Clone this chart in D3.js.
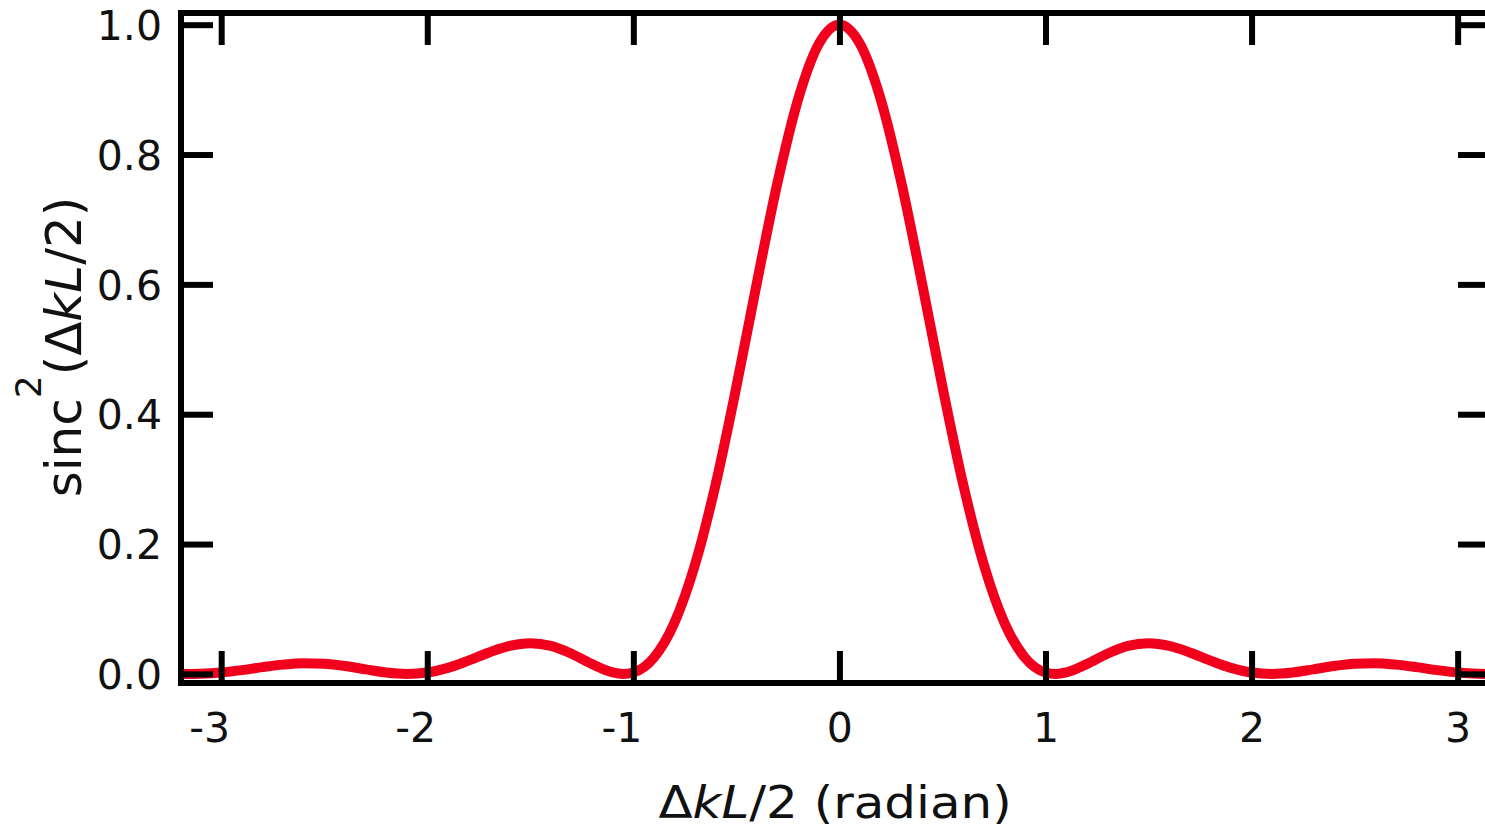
<!DOCTYPE html>
<html>
<head>
<meta charset="utf-8">
<script src="https://cdn.jsdelivr.net/npm/d3@7"></script>
<style>
  html, body { margin: 0; padding: 0; background: #fff; }
  svg { display: block; }
  text { font-family: "DejaVu Sans", sans-serif; fill: #111; }
</style>
</head>
<body>
<svg id="chart" width="1485" height="832"></svg>
<script>
// ---- data ----
const xValues = [
  -3.2,-3.14,-3.1,-3.0,-2.9,-2.8,-2.7,-2.6,-2.5,-2.4,-2.3,-2.2,-2.1,-2.0,
  -1.9,-1.8,-1.7,-1.6,-1.5,-1.4,-1.3,-1.2,-1.1,-1.05,-1.0,
  -0.9,-0.8,-0.7,-0.6,-0.5,-0.4,-0.3,-0.2,-0.1,0.0,
  0.1,0.2,0.3,0.4,0.5,0.6,0.7,0.8,0.9,1.0,1.05,
  1.1,1.2,1.3,1.4,1.5,1.6,1.7,1.8,1.9,2.0,
  2.1,2.2,2.3,2.4,2.5,2.6,2.7,2.8,2.9,3.0,3.1,3.14,3.2
];
const yValues = [
  0.0003,0.0000,0.0002,0.0021,0.0058,0.0104,0.0143,0.0164,0.0156,0.0122,0.0070,0.0022,0.0000,0.0022,
  0.0093,0.0205,0.0330,0.0431,0.0472,0.0431,0.0311,0.0151,0.0023,0.0000,0.0022,
  0.0251,0.0792,0.1690,0.2927,0.4422,0.6033,0.7575,0.8856,0.9704,1.0000,
  0.9704,0.8856,0.7575,0.6033,0.4422,0.2927,0.1690,0.0792,0.0251,0.0022,0.0000,
  0.0023,0.0151,0.0311,0.0431,0.0472,0.0431,0.0330,0.0205,0.0093,0.0022,
  0.0000,0.0022,0.0070,0.0122,0.0156,0.0164,0.0143,0.0104,0.0058,0.0021,0.0002,0.0000,0.0003
];
const xTicks = [-3,-2,-1,0,1,2,3];
const yTicks = [0.0,0.2,0.4,0.6,0.8,1.0];
const xDomain = [-3.195, 3.157];
const yDomain = [-0.014, 1.018];

// ---- layout ----
const W = 1485, H = 832;
const mLeft = 181, mRight = 1490, mTop = 13, mBottom = 683;
const tickLen = 29;
const axisW = 6;
const curveColor = "#f0001c";

const svg = d3.select("#chart");
const x = d3.scaleLinear().domain(xDomain).range([mLeft, mRight]);
const y = d3.scaleLinear().domain(yDomain).range([mBottom, mTop]);

// clip for data
svg.append("defs").append("clipPath").attr("id", "plotclip")
  .append("rect").attr("x", mLeft).attr("y", mTop - 20)
  .attr("width", mRight - mLeft).attr("height", mBottom - mTop + 20);

const data = xValues.map((v, i) => ({x: v, y: yValues[i]}));
const line = d3.line().x(d => x(d.x)).y(d => y(d.y)).curve(d3.curveMonotoneX);

svg.append("path")
  .datum(data)
  .attr("clip-path", "url(#plotclip)")
  .attr("d", line)
  .attr("fill", "none")
  .attr("stroke", curveColor)
  .attr("stroke-width", 10)
  .attr("stroke-linejoin", "miter");

// ---- axes ----
function styleAxis(g) {
  g.select(".domain").remove();
  g.selectAll(".tick line").attr("stroke", "#000").attr("stroke-width", axisW);
}

// bottom: ticks pointing up, labels below
const gB = svg.append("g").attr("transform", `translate(0,${mBottom})`)
  .call(d3.axisBottom(x).tickValues(xTicks).tickSizeInner(-tickLen - axisW/2).tickSizeOuter(0).tickPadding(0)
        .tickFormat(d => String(d)));
styleAxis(gB);
gB.selectAll(".tick text")
  .attr("y", 59).attr("dy", 0)
  .attr("dx", d => d < 0 ? -12 : 0)
  .style("font-size", "41px").attr("fill", "#111");

// top: ticks pointing down, no labels
const gT = svg.append("g").attr("transform", `translate(0,${mTop})`)
  .call(d3.axisTop(x).tickValues(xTicks).tickSizeInner(-tickLen - axisW/2).tickSizeOuter(0).tickFormat(""));
styleAxis(gT);

// left: ticks pointing right, labels left
const gL = svg.append("g").attr("transform", `translate(${mLeft},0)`)
  .call(d3.axisLeft(y).tickValues(yTicks).tickSizeInner(-tickLen - axisW/2).tickSizeOuter(0)
        .tickFormat(d3.format(".1f")));
styleAxis(gL);
gL.selectAll(".tick text")
  .attr("x", -19).attr("dy", "0.36em")
  .attr("text-anchor", "end")
  .style("font-size", "41px").attr("fill", "#111");

// right: ticks pointing left, no labels
const gR = svg.append("g").attr("transform", `translate(${mRight},0)`)
  .call(d3.axisRight(y).tickValues(yTicks).tickSizeInner(-tickLen - axisW/2).tickSizeOuter(0).tickFormat(""));
styleAxis(gR);

// frame
svg.append("rect")
  .attr("x", mLeft).attr("y", mTop)
  .attr("width", mRight - mLeft).attr("height", mBottom - mTop)
  .attr("fill", "none").attr("stroke", "#000").attr("stroke-width", axisW);

// ---- titles ----
const xt = svg.append("text")
  .attr("transform", "translate(835,818) scale(1.11,1)")
  .attr("text-anchor", "middle")
  .style("font-size", "45px");
xt.append("tspan").text("Δ");
xt.append("tspan").style("font-style", "italic").text("kL");
xt.append("tspan").text("/2 (radian)");

const yt = svg.append("text")
  .attr("transform", "translate(81,347) rotate(-90)")
  .attr("text-anchor", "middle")
  .style("font-size", "50px");
yt.append("tspan").text("sinc");
yt.append("tspan").attr("dy", -40).style("font-size", "36px").text("2");
yt.append("tspan").attr("dy", 40).text("(Δ");
yt.append("tspan").style("font-style", "italic").text("kL");
yt.append("tspan").text("/2)");
</script>
</body>
</html>
